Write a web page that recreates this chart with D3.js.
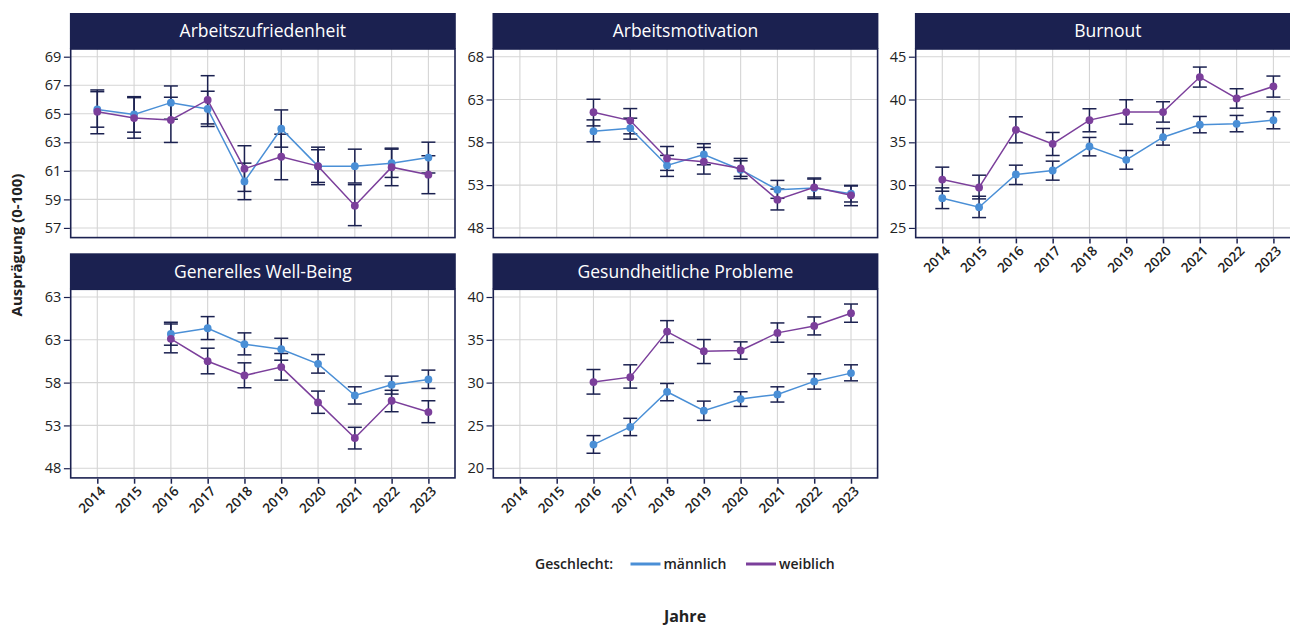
<!DOCTYPE html>
<html lang="de">
<head>
<meta charset="utf-8">
<script src="https://cdn.jsdelivr.net/npm/d3@7"></script>
<style>
  html, body { margin: 0; padding: 0; background: #ffffff; overflow: hidden; }
  svg { display: block; font-family: "Open Sans", "Noto Sans", sans-serif; }
</style>
</head>
<body>
<svg id="chart" width="1290" height="628"></svg>
<script>
// Survey years shown on every panel
const years = [2014, 2015, 2016, 2017, 2018, 2019, 2020, 2021, 2022, 2023];
const yearLabels = ["2014", "2015", "2016", "2017", "2018", "2019", "2020", "2021", "2022", "2023"];
const panelTitles = ["Arbeitszufriedenheit", "Arbeitsmotivation", "Burnout", "Generelles Well-Being", "Gesundheitliche Probleme"];
const groupNames = ["männlich", "weiblich"];

// Arbeitszufriedenheit: mean and 95% interval, men (M) and women (W)
const azM   = [65.30, 64.95, 65.78, 65.34, 60.26, 63.95, 61.33, 61.33, 61.54, 61.93];
const azMlo = [64.06, 63.71, 64.62, 64.11, 58.98, 62.66, 60.19, 60.15, 60.54, 60.85];
const azMhi = [66.55, 66.20, 66.95, 66.58, 61.54, 65.27, 62.48, 62.52, 62.52, 63.01];
const azW   = [65.15, 64.70, 64.57, 65.97, 61.15, 61.99, 61.33, 58.56, 61.26, 60.73];
const azWlo = [63.60, 63.29, 62.99, 64.29, 59.56, 60.38, 60.03, 57.16, 59.96, 59.40];
const azWhi = [66.67, 66.13, 66.16, 67.67, 62.76, 63.57, 62.66, 60.03, 62.59, 62.06];

// Arbeitsmotivation (no data before 2016)
const amM   = [null, null, 59.30, 59.65, 55.30, 56.58, 54.80, 52.47, 52.66, 52.00];
const amMlo = [null, null, 58.06, 58.37, 54.02, 55.38, 53.75, 51.46, 51.61, 51.03];
const amMhi = [null, null, 60.62, 60.82, 56.47, 57.83, 55.84, 53.55, 53.71, 52.97];
const amW   = [null, null, 61.51, 60.54, 56.12, 55.73, 54.95, 51.30, 52.74, 51.81];
const amWlo = [null, null, 59.92, 58.99, 54.72, 54.29, 54.02, 50.10, 51.42, 50.60];
const amWhi = [null, null, 63.03, 61.94, 57.51, 57.40, 56.12, 52.54, 53.83, 52.90];

// Burnout
const boM   = [28.47, 27.42, 31.24, 31.71, 34.51, 32.95, 35.60, 37.05, 37.16, 37.59];
const boMlo = [27.26, 26.21, 30.07, 30.58, 33.42, 31.86, 34.67, 36.11, 36.23, 36.58];
const boMhi = [29.68, 28.70, 32.33, 32.80, 35.57, 34.04, 36.62, 38.02, 38.14, 38.57];
const boW   = [30.65, 29.72, 36.46, 34.82, 37.59, 38.53, 38.53, 42.62, 40.13, 41.53];
const boWlo = [29.29, 28.39, 34.94, 33.46, 36.23, 37.12, 37.36, 41.45, 38.99, 40.28];
const boWhi = [32.10, 31.16, 37.98, 36.15, 38.92, 39.97, 39.74, 43.79, 41.26, 42.74];

// Generelles Well-Being (no data before 2016)
const wbM   = [null, null, 63.69, 64.35, 62.49, 61.90, 60.19, 56.50, 57.75, 58.37];
const wbMlo = [null, null, 62.37, 63.03, 61.24, 60.62, 59.11, 55.50, 56.66, 57.32];
const wbMhi = [null, null, 65.05, 65.71, 63.81, 63.18, 61.28, 57.51, 58.76, 59.46];
const wbW   = [null, null, 63.11, 60.50, 58.83, 59.81, 55.69, 51.53, 55.88, 54.56];
const wbWlo = [null, null, 61.48, 59.03, 57.40, 58.29, 54.41, 50.25, 54.60, 53.32];
const wbWhi = [null, null, 64.85, 62.02, 60.31, 61.40, 57.01, 52.78, 57.10, 55.88];

// Gesundheitliche Probleme (no data before 2016)
const gpM   = [null, null, 22.76, 24.82, 28.93, 26.72, 28.08, 28.62, 30.14, 31.11];
const gpMlo = [null, null, 21.75, 23.81, 27.88, 25.59, 27.22, 27.73, 29.24, 30.21];
const gpMhi = [null, null, 23.81, 25.83, 29.90, 27.84, 28.93, 29.51, 31.03, 32.08];
const gpW   = [null, null, 30.06, 30.64, 35.96, 33.67, 33.75, 35.81, 36.62, 38.10];
const gpWlo = [null, null, 28.66, 29.36, 34.68, 32.23, 32.74, 34.72, 35.57, 37.05];
const gpWhi = [null, null, 31.53, 32.08, 37.24, 35.03, 34.76, 36.97, 37.67, 39.18];

// Y-axis ticks and their labels for each panel
const azTicks = [57, 59, 61, 63, 65, 67, 69];
const azTickLabels = ["57", "59", "61", "63", "65", "67", "69"];
const amTicks = [48, 53, 58, 63, 68];
const amTickLabels = ["48", "53", "58", "63", "68"];
const boTicks = [25, 30, 35, 40, 45];
const boTickLabels = ["25", "30", "35", "40", "45"];
const wbTicks = [48, 53, 58, 63, 68];
const wbTickLabels = ["48", "53", "58", "63", "63"];
const gpTicks = [20, 25, 30, 35, 40];
const gpTickLabels = ["20", "25", "30", "35", "40"];

// ---- styling ----
const NAVY = "#1b2150";
const GRID = "#d5d5d5";
const COLORS = ["#4a8fd6", "#7b3f9b"];
const TEXT = "#222222";

// ---- assemble panel definitions ----
const panels = [
  { title: panelTitles[0], col: 0, row: 0, ticks: azTicks, labels: azTickLabels, xAxis: false,
    series: [[azM, azMlo, azMhi], [azW, azWlo, azWhi]] },
  { title: panelTitles[1], col: 1, row: 0, ticks: amTicks, labels: amTickLabels, xAxis: false,
    series: [[amM, amMlo, amMhi], [amW, amWlo, amWhi]] },
  { title: panelTitles[2], col: 2, row: 0, ticks: boTicks, labels: boTickLabels, xAxis: true,
    series: [[boM, boMlo, boMhi], [boW, boWlo, boWhi]] },
  { title: panelTitles[3], col: 0, row: 1, ticks: wbTicks, labels: wbTickLabels, xAxis: true,
    series: [[wbM, wbMlo, wbMhi], [wbW, wbWlo, wbWhi]] },
  { title: panelTitles[4], col: 1, row: 1, ticks: gpTicks, labels: gpTickLabels, xAxis: true,
    series: [[gpM, gpMlo, gpMhi], [gpW, gpWlo, gpWhi]] }
];

// ---- layout ----
const colLeft = [70.7, 493.3, 915.7];
const panelW = 384.3;
const rowTop = [13, 253.3];
const stripH = 36;
const plotH = 188.6;
const capHalf = 7;

const svg = d3.select("#chart");

panels.forEach(p => {
  const x0 = colLeft[p.col];
  const stripTop = rowTop[p.row];
  const top = stripTop + stripH;
  const bottom = top + plotH;

  const x = d3.scaleLinear()
    .domain([years[0] - 0.723, years[years.length - 1] + 0.723])
    .range([x0, x0 + panelW]);

  const lo = p.ticks[0], hi = p.ticks[p.ticks.length - 1];
  const span = hi - lo;
  const y = d3.scaleLinear()
    .domain([lo - 0.0565 * span, hi + 0.045 * span])
    .range([bottom, top]);

  const g = svg.append("g");

  // panel background
  g.append("rect")
    .attr("x", x0).attr("y", top)
    .attr("width", panelW).attr("height", plotH)
    .attr("fill", "#ffffff");

  // grid
  g.append("g").selectAll("line.h").data(p.ticks).join("line")
    .attr("x1", x0).attr("x2", x0 + panelW)
    .attr("y1", d => y(d)).attr("y2", d => y(d))
    .attr("stroke", GRID).attr("stroke-width", 1.1);
  g.append("g").selectAll("line.v").data(years).join("line")
    .attr("x1", d => x(d)).attr("x2", d => x(d))
    .attr("y1", top).attr("y2", bottom)
    .attr("stroke", GRID).attr("stroke-width", 1.1);

  // series: error bars, lines, points
  p.series.forEach((s, si) => {
    const [mean, low, high] = s;
    const rows = years.map((yr, i) => ({ yr, m: mean[i], l: low[i], h: high[i] }))
      .filter(d => d.m !== null);

    const eb = g.append("g").attr("stroke", NAVY).attr("stroke-width", 1.5).attr("fill", "none");
    eb.selectAll("line.stem").data(rows).join("line")
      .attr("x1", d => x(d.yr)).attr("x2", d => x(d.yr))
      .attr("y1", d => y(d.l)).attr("y2", d => y(d.h));
    eb.selectAll("line.capl").data(rows).join("line")
      .attr("x1", d => x(d.yr) - capHalf).attr("x2", d => x(d.yr) + capHalf)
      .attr("y1", d => y(d.l)).attr("y2", d => y(d.l));
    eb.selectAll("line.caph").data(rows).join("line")
      .attr("x1", d => x(d.yr) - capHalf).attr("x2", d => x(d.yr) + capHalf)
      .attr("y1", d => y(d.h)).attr("y2", d => y(d.h));
  });

  p.series.forEach((s, si) => {
    const mean = s[0];
    const rows = years.map((yr, i) => ({ yr, m: mean[i] })).filter(d => d.m !== null);
    g.append("path")
      .datum(rows)
      .attr("fill", "none")
      .attr("stroke", COLORS[si])
      .attr("stroke-width", 1.5)
      .attr("d", d3.line().x(d => x(d.yr)).y(d => y(d.m)));
    g.append("g").selectAll("circle").data(rows).join("circle")
      .attr("cx", d => x(d.yr)).attr("cy", d => y(d.m))
      .attr("r", 3.9)
      .attr("fill", COLORS[si]);
  });

  // panel frame
  g.append("rect")
    .attr("x", x0).attr("y", top)
    .attr("width", panelW).attr("height", plotH)
    .attr("fill", "none").attr("stroke", NAVY).attr("stroke-width", 1.6);

  // strip
  g.append("rect")
    .attr("x", x0 - 0.8).attr("y", stripTop)
    .attr("width", panelW + 1.6).attr("height", stripH)
    .attr("fill", NAVY);
  g.append("text")
    .attr("x", x0 + panelW / 2).attr("y", stripTop + stripH / 2)
    .attr("dy", "0.36em")
    .attr("text-anchor", "middle")
    .attr("fill", "#ffffff")
    .attr("font-size", 17.5)
    .attr("font-weight", 500)
    .text(p.title);

  // y axis
  const yAxis = d3.axisLeft(y)
    .tickValues(p.ticks)
    .tickFormat((d, i) => p.labels[i])
    .tickSize(6)
    .tickPadding(2.5);
  const ya = g.append("g").attr("transform", `translate(${x0 - 0.8},0)`).call(yAxis);
  ya.select(".domain").remove();
  ya.selectAll(".tick line").attr("stroke", NAVY).attr("stroke-width", 1.2);
  ya.selectAll(".tick text").attr("fill", TEXT).attr("font-size", 14.5).attr("font-weight", 500)
    .attr("font-family", "'Open Sans', sans-serif");

  // x axis on the lowest panel of each column
  if (p.xAxis) {
    const xAxis = d3.axisBottom(x)
      .tickValues(years)
      .tickFormat((d, i) => yearLabels[i])
      .tickSize(5)
      .tickPadding(3);
    const xa = g.append("g").attr("transform", `translate(0,${bottom + 0.8})`).call(xAxis);
    xa.select(".domain").remove();
    xa.selectAll(".tick line").attr("stroke", NAVY).attr("stroke-width", 1.5);
    xa.selectAll(".tick text")
      .attr("fill", TEXT)
      .attr("font-size", 13.5)
      .attr("font-weight", 600)
      .attr("font-family", "'Open Sans', sans-serif")
      .attr("text-anchor", "end")
      .attr("dy", "0.35em")
      .attr("transform", "translate(5,10) rotate(-45)")
      .attr("y", 0).attr("x", 0);
  }
});

// axis titles
svg.append("text")
  .attr("transform", "translate(22,245) rotate(-90)")
  .attr("text-anchor", "middle")
  .attr("fill", TEXT)
  .attr("font-size", 15)
  .attr("font-weight", 700)
  .text("Ausprägung (0-100)");

svg.append("text")
  .attr("x", 685).attr("y", 616)
  .attr("dy", "0.35em")
  .attr("text-anchor", "middle")
  .attr("fill", TEXT)
  .attr("font-size", 16)
  .attr("font-weight", 700)
  .text("Jahre");

// legend
const legend = svg.append("g").attr("transform", "translate(0,564)");
legend.append("text")
  .attr("x", 535).attr("y", 0).attr("dy", "0.35em")
  .attr("fill", TEXT).attr("font-size", 14).attr("font-weight", 600)
  .text("Geschlecht:");
const legendX = [630.5, 746];
groupNames.forEach((name, i) => {
  legend.append("line")
    .attr("x1", legendX[i]).attr("x2", legendX[i] + 30)
    .attr("y1", 0).attr("y2", 0)
    .attr("stroke", COLORS[i]).attr("stroke-width", 3);
  legend.append("text")
    .attr("x", legendX[i] + 33).attr("y", 0).attr("dy", "0.35em")
    .attr("fill", TEXT).attr("font-size", 14).attr("font-weight", 600)
    .text(name);
});
</script>
</body>
</html>
